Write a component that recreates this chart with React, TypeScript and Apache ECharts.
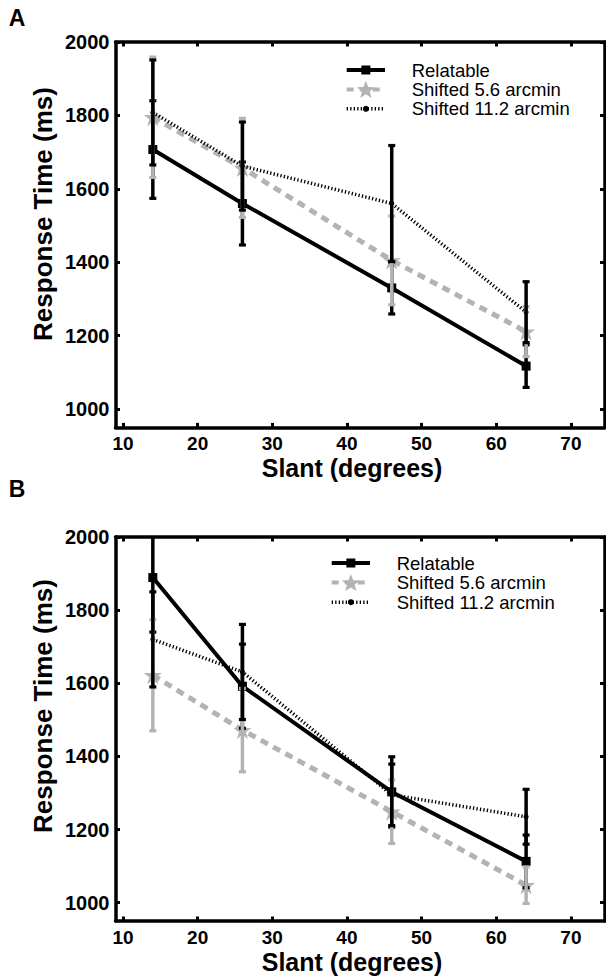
import React, { useEffect, useRef } from "react";
import * as echarts from "echarts";

// ---------- data ----------
const slants = [14, 26, 46, 64];
const xTickValues = [10, 20, 30, 40, 50, 60, 70];
const yTickValues = [1000, 1200, 1400, 1600, 1800, 2000];
const seriesNames = ["Relatable", "Shifted 5.6 arcmin", "Shifted 11.2 arcmin"];

// Panel A
const relatableA = [1707, 1560, 1330, 1117];
const relatableAErr = [133, 113, 71, 58];
const shifted56A = [1795, 1657, 1405, 1211];
const shifted56AErr = [164, 135, 121, 68];
const shifted112A = [1808, 1662, 1560, 1264];
const shifted112AErr = [143, 120, 158, 83];

// Panel B
const relatableB = [1889, 1592, 1303, 1113];
const relatableBErr = [149, 115, 96, 72];
const shifted56B = [1622, 1472, 1249, 1048];
const shifted56BErr = [152, 114, 87, 50];
const shifted112B = [1720, 1631, 1295, 1235];
const shifted112BErr = [130, 130, 84, 75];

// ---------- styles ----------
const BLACK = "#000000";
const GRAY = "#b3b3b3";
const FONT = "'Liberation Sans', Arial, Helvetica, sans-serif";
const STAR =
  "path://M50,0 L61.2,34.5 L97.6,34.5 L68.2,55.9 L79.4,90.5 L50,69.1 L20.6,90.5 L31.8,55.9 L2.4,34.5 L38.8,34.5 Z";

const X_MIN = 9;
const X_MAX = 74.5;
const Y_MIN = 950;
const Y_MAX = 2000;

const GRID_LEFT = 115.5;
const GRID_WIDTH = 489;
const panels = [
  { top: 42, height: 385.4 },
  { top: 537, height: 384 },
];

function errData(m: number[], e: number[]) {
  return slants.map((x, i) => [x, m[i] - e[i], m[i] + e[i]]);
}

function lineData(m: number[]) {
  return slants.map((x, i) => [x, m[i]]);
}

function errorBarSeries(gi: number, m: number[], e: number[], color: string, z: number) {
  return {
    type: "custom",
    xAxisIndex: gi * 2,
    yAxisIndex: gi * 2,
    z,
    silent: true,
    encode: { x: 0, y: [1, 2] },
    data: errData(m, e),
    renderItem: (params: any, api: any) => {
      const cs = params.coordSys;
      const x = api.value(0);
      const lo = api.value(1);
      const hi = api.value(2);
      const pTop = api.coord([x, hi]);
      const pBot = api.coord([x, lo]);
      const yMin = cs.y;
      const yMax = cs.y + cs.height;
      const yt = Math.max(pTop[1], yMin);
      const yb = Math.min(pBot[1], yMax);
      const cap = 3.5;
      const children: any[] = [
        {
          type: "line",
          shape: { x1: pTop[0], y1: yt, x2: pTop[0], y2: yb },
          style: { stroke: color, lineWidth: 3.5 },
        },
      ];
      if (pTop[1] >= yMin) {
        children.push({
          type: "line",
          shape: { x1: pTop[0] - cap, y1: pTop[1], x2: pTop[0] + cap, y2: pTop[1] },
          style: { stroke: color, lineWidth: 3.2 },
        });
      }
      if (pBot[1] <= yMax) {
        children.push({
          type: "line",
          shape: { x1: pBot[0] - cap, y1: pBot[1], x2: pBot[0] + cap, y2: pBot[1] },
          style: { stroke: color, lineWidth: 3.2 },
        });
      }
      return { type: "group", children };
    },
  };
}

function panelSeries(
  gi: number,
  rel: number[],
  relErr: number[],
  s56: number[],
  s56Err: number[],
  s112: number[],
  s112Err: number[]
) {
  return [
    {
      name: seriesNames[1],
      type: "line",
      xAxisIndex: gi * 2,
      yAxisIndex: gi * 2,
      z: 1,
      data: lineData(s56),
      symbol: STAR,
      symbolSize: 18,
      itemStyle: { color: GRAY },
      lineStyle: { color: GRAY, width: 5, type: [8, 6] },
    },
    {
      name: seriesNames[2],
      type: "line",
      xAxisIndex: gi * 2,
      yAxisIndex: gi * 2,
      z: 2,
      data: lineData(s112),
      symbol: "circle",
      symbolSize: 5,
      itemStyle: { color: BLACK },
      lineStyle: { color: BLACK, width: 3.5, type: [1.3, 2.2] },
    },
    {
      name: seriesNames[0],
      type: "line",
      xAxisIndex: gi * 2,
      yAxisIndex: gi * 2,
      z: 3,
      data: lineData(rel),
      symbol: "rect",
      symbolSize: 9,
      itemStyle: { color: BLACK },
      lineStyle: { color: BLACK, width: 4 },
    },
    errorBarSeries(gi, rel, relErr, BLACK, 4),
    errorBarSeries(gi, s56, s56Err, GRAY, 5),
    errorBarSeries(gi, s112, s112Err, BLACK, 6),
  ];
}

function starPoints(cx: number, cy: number, R: number, r: number) {
  const pts: number[][] = [];
  for (let k = 0; k < 10; k++) {
    const ang = -Math.PI / 2 + (k * Math.PI) / 5;
    const rad = k % 2 === 0 ? R : r;
    pts.push([cx + rad * Math.cos(ang), cy + rad * Math.sin(ang)]);
  }
  return pts;
}

function legendGraphic(x0: number, x1: number, rows: number[], textX: number) {
  const cx = (x0 + x1) / 2;
  const textStyle = (t: string, y: number) => ({
    type: "text",
    x: textX,
    y,
    style: {
      text: t,
      fill: BLACK,
      font: `18.5px ${FONT}`,
      textAlign: "left",
      textVerticalAlign: "middle",
    },
  });
  return [
    {
      type: "line",
      shape: { x1: x0, y1: rows[0], x2: x1, y2: rows[0] },
      style: { stroke: BLACK, lineWidth: 4 },
    },
    {
      type: "rect",
      shape: { x: cx - 4.5, y: rows[0] - 4.5, width: 9, height: 9 },
      style: { fill: BLACK },
    },
    textStyle(seriesNames[0], rows[0]),
    {
      type: "line",
      shape: { x1: x0, y1: rows[1], x2: x1, y2: rows[1] },
      style: { stroke: GRAY, lineWidth: 4, lineDash: [7, 6] },
    },
    {
      type: "polygon",
      shape: { points: starPoints(cx, rows[1] + 0.8, 9.5, 4) },
      style: { fill: GRAY },
    },
    textStyle(seriesNames[1], rows[1]),
    {
      type: "line",
      shape: { x1: x0, y1: rows[2], x2: x1, y2: rows[2] },
      style: { stroke: BLACK, lineWidth: 3.5, lineDash: [1.3, 2.2] },
    },
    {
      type: "circle",
      shape: { cx, cy: rows[2], r: 3 },
      style: { fill: BLACK },
    },
    textStyle(seriesNames[2], rows[2]),
  ];
}

function boldText(t: string, x: number, y: number, size: number, rotation = 0) {
  return {
    type: "text",
    x,
    y,
    rotation,
    style: {
      text: t,
      fill: BLACK,
      font: `bold ${size}px ${FONT}`,
      textAlign: "center",
      textVerticalAlign: "middle",
    },
  };
}

export default function App() {
  const ref = useRef<HTMLDivElement>(null);

  useEffect(() => {
    document.body.style.margin = "0";
    if (!ref.current) return;
    const chart = echarts.init(ref.current, undefined, { renderer: "svg" });

    const axisLineStyle = { lineStyle: { color: BLACK, width: 3.5 } };
    const tickStyle = { inside: true, length: 4.5, lineStyle: { color: BLACK, width: 3 } };
    const labelStyle = {
      color: BLACK,
      fontFamily: FONT,
      fontWeight: "bold" as const,
      fontSize: 20,
      formatter: (v: number) => String(v),
    };

    const grids = panels.map((p) => ({
      left: GRID_LEFT,
      top: p.top,
      width: GRID_WIDTH,
      height: p.height,
      containLabel: false,
    }));

    const xAxes: any[] = [];
    const yAxes: any[] = [];
    panels.forEach((_, gi) => {
      xAxes.push({
        type: "value",
        gridIndex: gi,
        position: "bottom",
        min: X_MIN,
        max: X_MAX,
        axisLine: { show: true, onZero: false, ...axisLineStyle },
        axisTick: { ...tickStyle, customValues: xTickValues },
        axisLabel: { ...labelStyle, fontSize: 19, margin: 7, customValues: xTickValues },
        splitLine: { show: false },
      });
      xAxes.push({
        type: "value",
        gridIndex: gi,
        position: "top",
        min: X_MIN,
        max: X_MAX,
        axisLine: { show: true, onZero: false, ...axisLineStyle },
        axisTick: { ...tickStyle, customValues: xTickValues },
        axisLabel: { show: false },
        splitLine: { show: false },
      });
      yAxes.push({
        type: "value",
        gridIndex: gi,
        position: "left",
        min: Y_MIN,
        max: Y_MAX,
        axisLine: { show: true, onZero: false, ...axisLineStyle },
        axisTick: { ...tickStyle, customValues: yTickValues },
        axisLabel: { ...labelStyle, margin: 6, customValues: yTickValues },
        splitLine: { show: false },
      });
      yAxes.push({
        type: "value",
        gridIndex: gi,
        position: "right",
        min: Y_MIN,
        max: Y_MAX,
        axisLine: { show: true, onZero: false, ...axisLineStyle },
        axisTick: { ...tickStyle, customValues: yTickValues },
        axisLabel: { show: false },
        splitLine: { show: false },
      });
    });

    const series = [
      ...panelSeries(0, relatableA, relatableAErr, shifted56A, shifted56AErr, shifted112A, shifted112AErr),
      ...panelSeries(1, relatableB, relatableBErr, shifted56B, shifted56BErr, shifted112B, shifted112BErr),
    ];

    const graphic = [
      boldText("A", 17, 18, 23),
      boldText("B", 17, 489, 23),
      boldText("Slant (degrees)", 352, 468, 25),
      boldText("Slant (degrees)", 352, 961.5, 25),
      boldText("Response Time (ms)", 43, 214, 26, Math.PI / 2),
      boldText("Response Time (ms)", 43, 706, 26, Math.PI / 2),
      ...legendGraphic(346.7, 385, [70, 89.4, 108.8], 411.7),
      ...legendGraphic(331.7, 370, [563, 582.6, 602.2], 396.7),
    ];

    chart.setOption({
      animation: false,
      backgroundColor: "#ffffff",
      grid: grids,
      xAxis: xAxes,
      yAxis: yAxes,
      series,
      graphic,
    });

    return () => {
      chart.dispose();
    };
  }, []);

  return <div ref={ref} style={{ width: 606, height: 976 }} />;
}
